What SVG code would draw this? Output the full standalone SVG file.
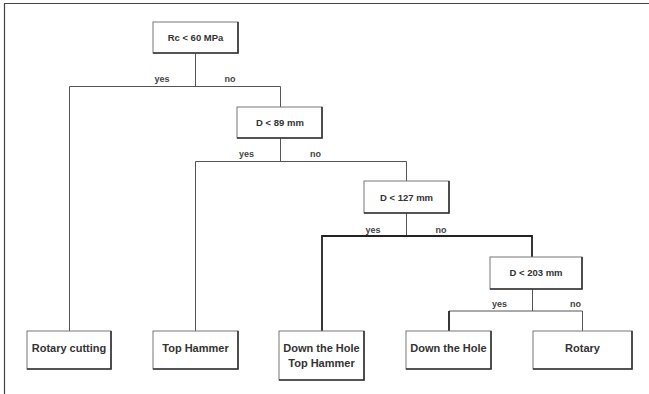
<svg xmlns="http://www.w3.org/2000/svg" width="649" height="394" viewBox="0 0 649 394">
<style>
.box{fill:#fff;stroke:#777;stroke-width:1}
.sh{fill:none;stroke:#333;stroke-width:1.6}
.ln{fill:none;stroke:#555;stroke-width:1}
.thk{fill:none;stroke:#222;stroke-width:1.8}
.t{font-family:"Liberation Sans",Arial,sans-serif;font-weight:bold;fill:#333;text-anchor:middle}
.d{font-size:9.5px}
.lf{font-size:11px}
.lb{font-size:9px;fill:#444}
</style>
<rect width="649" height="394" fill="#fff"/>
<path d="M4.5,394 V3.5 H649" fill="none" stroke="#444" stroke-width="1.2"/>
<g id="connectors">
<path class="ln" d="M195.5,53 V86.5 M69.5,331 V86.5 H280.5 V107"/>
<path class="ln" d="M280.5,138 V161.5 M195.5,331 V161.5 H406.5 V181"/>
<path class="ln" d="M406.5,213 V236"/>
<path class="thk" d="M322,331 V236 H532 V257"/>
<path class="ln" d="M532.5,289 V311"/>
<path class="ln" d="M449,311 H582.5 V331"/>
<path class="thk" d="M449,311 V331"/>
<text class="t lb" x="162" y="82">yes</text>
<text class="t lb" x="230" y="82">no</text>
<text class="t lb" x="246.5" y="157">yes</text>
<text class="t lb" x="315.5" y="157">no</text>
<text class="t lb" x="373" y="232.5">yes</text>
<text class="t lb" x="441" y="232.5">no</text>
<text class="t lb" x="499.5" y="307">yes</text>
<text class="t lb" x="575.5" y="307">no</text>
</g>
<g id="n-rc">
<rect class="box" x="153" y="22" width="85" height="31"/>
<path class="sh" d="M238,22 V53 H153"/>
<text class="t d" x="195.5" y="41">Rc &lt; 60 MPa</text>
</g>
<g id="n-d89">
<rect class="box" x="237" y="107" width="85" height="31"/>
<path class="sh" d="M322,107 V138 H237"/>
<text class="t d" x="280" y="126">D &lt; 89 mm</text>
</g>
<g id="n-d127">
<rect class="box" x="364" y="181" width="85" height="32"/>
<path class="sh" d="M449,181 V213 H364"/>
<text class="t d" x="406.5" y="200.5">D &lt; 127 mm</text>
</g>
<g id="n-d203">
<rect class="box" x="490" y="257" width="92" height="32"/>
<path class="sh" d="M582,257 V289 H490"/>
<text class="t d" x="536" y="276">D &lt; 203 mm</text>
</g>
<g id="n-rotary-cutting">
<rect class="box" x="27" y="331" width="84" height="38"/>
<path class="sh" d="M111,331 V369 H27"/>
<text class="t lf" x="69" y="352">Rotary cutting</text>
</g>
<g id="n-top-hammer">
<rect class="box" x="153" y="331" width="85" height="38"/>
<path class="sh" d="M238,331 V369 H153"/>
<text class="t lf" x="195.5" y="352">Top Hammer</text>
</g>
<g id="n-dth-th">
<rect class="box" x="279" y="331" width="85" height="49"/>
<path class="sh" d="M364,331 V380 H279"/>
<text class="t lf" x="321.5" y="352">Down the Hole</text>
<text class="t lf" x="321.5" y="366.5">Top Hammer</text>
</g>
<g id="n-dth">
<rect class="box" x="406" y="331" width="85" height="38"/>
<path class="sh" d="M491,331 V369 H406"/>
<text class="t lf" x="448.5" y="352">Down the Hole</text>
</g>
<g id="n-rotary">
<rect class="box" x="533" y="331" width="99" height="38"/>
<path class="sh" d="M632,331 V369 H533"/>
<text class="t lf" x="582.5" y="352">Rotary</text>
</g>
</svg>
